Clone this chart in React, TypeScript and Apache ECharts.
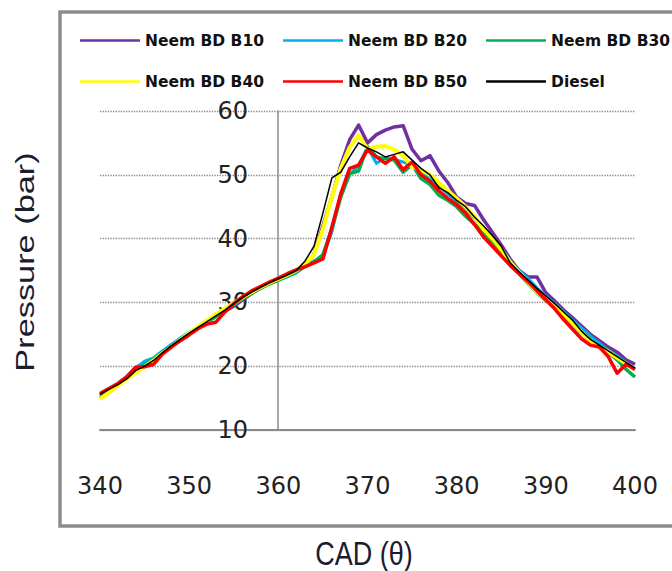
import React, { useEffect, useRef } from "react";
import * as echarts from "echarts";

const CAD = [
  340, 341, 342, 343, 344, 345, 346, 347, 348, 349,
  350, 351, 352, 353, 354, 355, 356, 357, 358, 359,
  360, 361, 362, 363, 364, 365, 366, 367, 368, 369,
  370, 371, 372, 373, 374, 375, 376, 377, 378, 379,
  380, 381, 382, 383, 384, 385, 386, 387, 388, 389,
  390, 391, 392, 393, 394, 395, 396, 397, 398, 399, 400,
];

const B10 = [
  15.0, 15.9, 17.0, 18.3, 19.8, 20.4, 21.0, 22.2, 23.3, 24.1,
  25.0, 26.0, 27.1, 28.0, 28.6, 29.4, 30.4, 31.4, 32.4, 33.0,
  33.5, 34.2, 35.0, 35.8, 37.5, 42.0, 46.5, 51.5, 55.5, 57.8,
  55.0, 56.3, 57.0, 57.5, 57.7, 54.0, 52.2, 53.0, 50.6, 48.8,
  46.5, 45.5, 45.2, 43.0, 41.0, 39.0, 36.8, 35.0, 34.0, 34.0,
  31.5, 30.2, 28.8, 27.6, 26.3, 25.0, 24.0, 23.0, 22.2, 21.0, 20.3,
];

const B20 = [
  15.6, 16.4, 17.3, 18.4, 19.7, 20.8, 21.3, 22.4, 23.4, 24.4,
  25.3, 26.1, 27.0, 28.0, 29.0, 30.0, 30.8, 31.6, 32.3, 33.0,
  33.5, 34.0, 34.6, 35.7, 36.5, 37.2, 41.0, 47.0, 50.0, 51.5,
  54.3, 51.8, 52.6, 52.4, 52.0, 51.5, 50.5, 49.5, 48.3, 47.0,
  45.8, 44.7, 43.2, 41.8, 40.2, 38.5, 36.5, 35.0, 33.8, 32.3,
  31.0, 29.8, 28.5, 27.2, 26.0, 24.7, 23.6, 22.5, 21.6, 20.6, 19.6,
];

const B30 = [
  15.4, 16.2, 17.1, 18.1, 19.3, 20.2, 21.1, 22.2, 23.1, 24.0,
  25.0, 25.9, 26.9, 27.8, 28.7, 29.6, 30.6, 31.4, 32.2, 32.9,
  33.5, 34.1, 34.8, 35.6, 36.3, 37.5, 41.5, 46.5, 50.2, 50.6,
  54.4, 52.8, 52.5, 52.3, 50.4, 51.6, 49.4, 48.5, 46.8, 46.0,
  45.0, 43.5, 42.3, 41.0, 39.5, 38.0, 36.0, 34.5, 33.0, 31.5,
  30.3, 29.2, 27.9, 26.6, 25.2, 24.0, 23.1, 22.2, 21.0, 19.5, 18.3,
];

const B40 = [
  14.8, 15.9, 17.0, 18.0, 19.0, 19.9, 20.9, 22.0, 23.0, 24.1,
  25.2, 26.2, 27.2, 28.2, 29.0, 29.9, 30.8, 31.6, 32.4, 33.1,
  33.7, 34.3, 35.0, 36.0, 37.5, 41.5, 46.5, 51.0, 54.3, 56.2,
  54.0, 54.4, 54.5, 54.0, 53.0, 51.2, 50.8, 50.0, 48.8, 47.5,
  46.3, 45.0, 43.5, 41.5, 40.0, 38.3, 36.3, 34.7, 33.2, 31.6,
  30.5, 29.4, 28.2, 26.8, 25.3, 24.0, 23.0, 22.3, 21.3, 20.4, 19.5,
];

const B50 = [
  15.7, 16.5, 17.3, 18.3, 19.8, 19.9, 20.3, 21.9, 23.0, 24.0,
  24.9, 25.9, 26.6, 26.9, 28.5, 29.8, 30.9, 31.8, 32.5, 33.2,
  33.8, 34.5, 35.1, 35.6, 36.2, 36.8, 41.8, 47.0, 51.0, 51.5,
  53.9, 52.8, 51.8, 52.8, 50.8, 52.0, 50.0, 49.0, 47.5, 46.3,
  45.3, 44.0, 42.2, 40.3, 38.8, 37.3, 35.8, 34.5, 33.3, 31.8,
  30.4, 29.0, 27.3, 25.8, 24.3, 23.3, 23.0, 21.5, 18.9, 20.3, 19.5,
];

const DIESEL = [
  15.6, 16.4, 17.1, 18.0, 19.3, 20.0, 20.9, 22.1, 23.2, 24.2,
  25.2, 26.1, 27.0, 27.9, 28.8, 29.8, 30.8, 31.6, 32.4, 33.1,
  33.7, 34.3, 35.0, 36.5, 38.8, 44.0, 49.5, 50.4, 52.8, 55.0,
  54.2, 53.6, 52.8, 53.2, 53.6, 52.3, 51.0, 50.0, 48.0, 47.2,
  46.0, 45.0, 43.4, 42.0, 40.5, 38.8, 36.2, 34.8, 33.5, 32.2,
  31.0, 29.8, 28.5, 27.2, 25.5, 24.2, 23.3, 22.4, 21.5, 20.6, 19.7,
];

const SERIES_NAMES = ["Neem BD B10", "Neem BD B20", "Neem BD B30", "Neem BD B40", "Neem BD B50", "Diesel"];
const SERIES_VALUES = [B10, B20, B30, B40, B50, DIESEL];
const SERIES_COLORS = ["#7030A0", "#00B0F0", "#00B050", "#FFFF00", "#FF0000", "#000000"];
const SERIES_WIDTHS = [3.5, 3, 3.5, 4, 3.5, 1.5];

const X_MIN = 340;
const X_MAX = 400;
const X_STEP = 10;
const Y_MIN = 10;
const Y_MAX = 60;
const Y_STEP = 10;

const X_TITLE = "CAD (θ)";
const Y_TITLE = "Pressure (bar)";

export default function App() {
  const ref = useRef<HTMLDivElement>(null);

  useEffect(() => {
    if (!ref.current) return;
    const chart = echarts.init(ref.current, undefined, { renderer: "svg" });

    const tickFont = {
      fontFamily: "DejaVu Sans",
      fontSize: 24,
      color: "#222222",
    };

    const legendText = {
      fontFamily: "DejaVu Sans",
      fontWeight: "bold" as const,
      fontSize: 15.5,
      color: "#111111",
    };

    const legendCommon = {
      orient: "horizontal" as const,
      left: 80,
      padding: 0,
      icon: "rect",
      itemWidth: 60,
      itemHeight: 2.5,
      itemGap: 19,
      textStyle: legendText,
      selectedMode: false,
    };

    chart.setOption({
      animation: false,
      backgroundColor: "#ffffff",
      grid: { left: 100, right: 37, top: 111, bottom: 141, containLabel: false },
      xAxis: {
        type: "value",
        min: X_MIN,
        max: X_MAX,
        interval: X_STEP,
        axisLine: { show: true, onZero: false, lineStyle: { color: "#8a8a8a", width: 2 } },
        axisTick: { show: false },
        splitLine: { show: false },
        axisLabel: { ...tickFont, margin: 44 },
      },
      yAxis: {
        type: "value",
        min: Y_MIN,
        max: Y_MAX,
        interval: Y_STEP,
        offset: -178,
        axisLine: { show: true, onZero: false, lineStyle: { color: "#8a8a8a", width: 1.5 } },
        axisTick: { show: false },
        splitLine: { show: true, lineStyle: { type: "dotted", color: "#888888", width: 1.3 } },
        axisLabel: { ...tickFont, margin: 30 },
      },
      legend: [
        { ...legendCommon, top: 32.5, data: SERIES_NAMES.slice(0, 3) },
        { ...legendCommon, top: 73.5, data: SERIES_NAMES.slice(3, 6) },
      ],
      graphic: [
        {
          type: "rect",
          silent: true,
          z: -10,
          shape: { x: 60, y: 12, width: 640, height: 514 },
          style: { fill: "none", stroke: "#8c8c8c", lineWidth: 3.5 },
        },
        {
          type: "text",
          silent: true,
          x: 364,
          y: 554,
          scaleY: 1.2,
          style: {
            text: X_TITLE,
            font: '27px "Liberation Sans"',
            fill: "#1c1c2e",
            align: "center",
            verticalAlign: "middle",
            textAlign: "center",
            textVerticalAlign: "middle",
          },
        },
        {
          type: "text",
          silent: true,
          x: 25,
          y: 262,
          rotation: Math.PI / 2,
          scaleX: 1.32,
          style: {
            text: Y_TITLE,
            font: '26px "Liberation Sans"',
            fill: "#1c1c2e",
            align: "center",
            verticalAlign: "middle",
            textAlign: "center",
            textVerticalAlign: "middle",
          },
        },
      ],
      series: SERIES_NAMES.map((name, si) => ({
        name,
        type: "line",
        symbol: "none",
        smooth: false,
        z: 2 + si,
        data: CAD.map((c, i) => [c, SERIES_VALUES[si][i]]),
        lineStyle: { color: SERIES_COLORS[si], width: SERIES_WIDTHS[si], join: "round" },
        itemStyle: { color: SERIES_COLORS[si] },
      })),
    });

    return () => {
      chart.dispose();
    };
  }, []);

  return (
    <div
      ref={ref}
      style={{ position: "absolute", left: 0, top: 0, width: 672, height: 571 }}
    />
  );
}
